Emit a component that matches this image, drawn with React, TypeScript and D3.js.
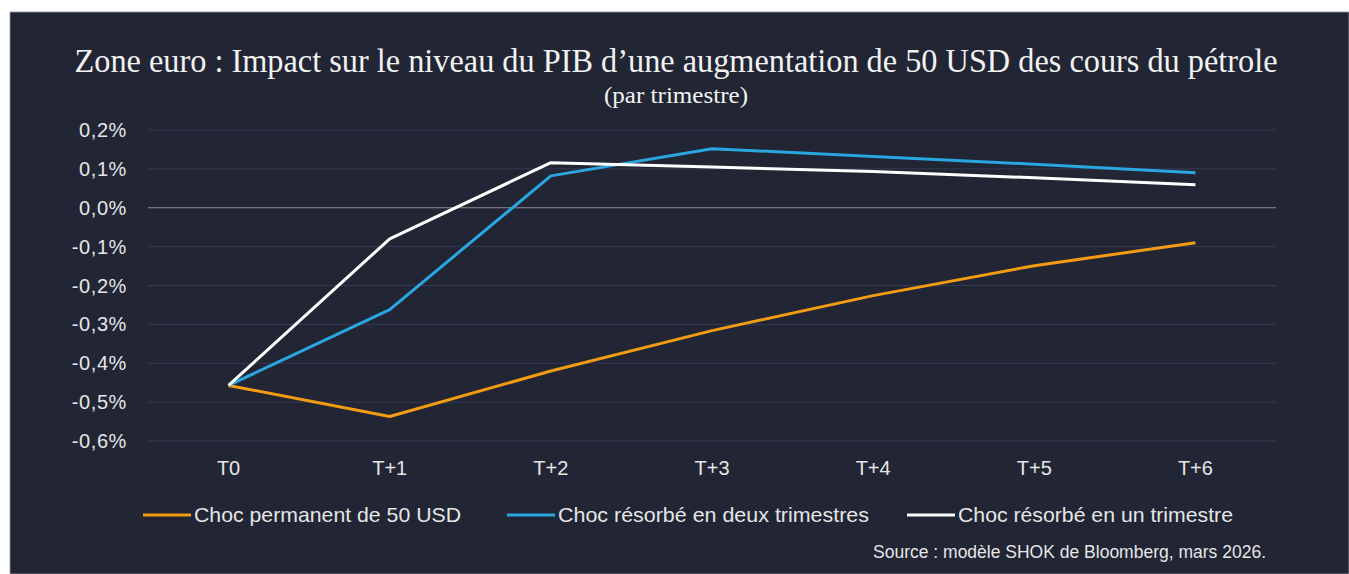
import React, { useRef, useEffect } from 'react';
import * as d3 from 'd3';

// quarters after the oil shock
const quarters = ['T0', 'T+1', 'T+2', 'T+3', 'T+4', 'T+5', 'T+6'];

// GDP level impact, in %
const permanentShock = [-0.457, -0.537, -0.42, -0.316, -0.226, -0.149, -0.09];
const twoQuarterShock = [-0.457, -0.262, 0.082, 0.152, 0.132, 0.112, 0.09];
const oneQuarterShock = [-0.457, -0.08, 0.116, 0.105, 0.093, 0.077, 0.059];

const yTicks = [0.2, 0.1, 0, -0.1, -0.2, -0.3, -0.4, -0.5, -0.6];

const seriesNames = [
    'Choc permanent de 50 USD',
    'Choc résorbé en deux trimestres',
    'Choc résorbé en un trimestre',
];

const BG = '#212534';

export default function App() {
    const svgRef = useRef(null);

    useEffect(() => {
        const width = 1349;
        const height = 574;
        const svg = d3.select(svgRef.current)
            .attr('width', width)
            .attr('height', height);
        svg.selectAll('*').remove();

        // panel background
        svg.append('rect')
            .attr('x', 10).attr('y', 12)
            .attr('width', width - 10).attr('height', height - 12)
            .attr('fill', BG)
            .attr('stroke', '#9a9ca3')
            .attr('stroke-width', 0.8);

        // titles
        svg.append('text')
            .attr('x', 676).attr('y', 72)
            .attr('text-anchor', 'middle')
            .attr('font-family', '"Liberation Serif", serif')
            .attr('font-size', 34)
            .attr('fill', '#f2f2f2')
            .attr('textLength', 1203)
            .attr('lengthAdjust', 'spacingAndGlyphs')
            .text('Zone euro : Impact sur le niveau du PIB d\u2019une augmentation de 50 USD des cours du pétrole');

        svg.append('text')
            .attr('x', 676).attr('y', 103)
            .attr('text-anchor', 'middle')
            .attr('font-family', '"Liberation Serif", serif')
            .attr('font-size', 24)
            .attr('fill', '#f2f2f2')
            .attr('textLength', 144)
            .attr('lengthAdjust', 'spacingAndGlyphs')
            .text('(par trimestre)');

        const left = 148, right = 1276;
        const x = d3.scaleBand().domain(quarters).range([left, right]);
        const y = d3.scaleLinear().domain([-0.6, 0.2]).range([441, 130]);

        // gridlines
        svg.append('g')
            .selectAll('line')
            .data(yTicks)
            .join('line')
            .attr('x1', left).attr('x2', right)
            .attr('y1', d => y(d)).attr('y2', d => y(d))
            .attr('stroke', d => d === 0 ? '#8b8e98' : '#353a52')
            .attr('stroke-width', 1);

        // y labels
        svg.append('g')
            .selectAll('text')
            .data(yTicks)
            .join('text')
            .attr('x', 127)
            .attr('y', d => y(d) + 7)
            .attr('text-anchor', 'end')
            .attr('font-family', '"Liberation Sans", Arial, sans-serif')
            .attr('font-size', 20)
            .attr('letter-spacing', 0.6)
            .attr('fill', '#e6e6e6')
            .text(d => d3.format('.1f')(d).replace('.', ',').replace('−', '-') + '%');

        // x labels
        svg.append('g')
            .selectAll('text')
            .data(quarters)
            .join('text')
            .attr('x', d => x(d) + x.bandwidth() / 2)
            .attr('y', 475)
            .attr('text-anchor', 'middle')
            .attr('font-family', '"Liberation Sans", Arial, sans-serif')
            .attr('font-size', 20)
            .attr('fill', '#e6e6e6')
            .text(d => d);

        const series = [
            { values: permanentShock, color: '#f39c12' },
            { values: twoQuarterShock, color: '#2aa6e0' },
            { values: oneQuarterShock, color: '#ffffff' },
        ];

        const line = d3.line<number>()
            .x((d, i) => x(quarters[i]) + x.bandwidth() / 2)
            .y(d => y(d));

        series.forEach(s => {
            svg.append('path')
                .datum(s.values)
                .attr('fill', 'none')
                .attr('stroke', s.color)
                .attr('stroke-width', 3)
                .attr('stroke-linejoin', 'round')
                .attr('d', line);
        });

        // legend
        const legendX = [143, 507, 907];
        const legendW = [267, 311, 275];
        series.forEach((s, i) => {
            svg.append('line')
                .attr('x1', legendX[i]).attr('x2', legendX[i] + 48)
                .attr('y1', 515).attr('y2', 515)
                .attr('stroke', s.color)
                .attr('stroke-width', 3);
            svg.append('text')
                .attr('x', legendX[i] + 51)
                .attr('y', 522)
                .attr('font-family', '"Liberation Sans", Arial, sans-serif')
                .attr('font-size', 21)
                .attr('fill', '#e6e6e6')
                .attr('textLength', legendW[i])
                .attr('lengthAdjust', 'spacingAndGlyphs')
                .text(seriesNames[i]);
        });

        // source
        svg.append('text')
            .attr('x', 1266).attr('y', 558)
            .attr('text-anchor', 'end')
            .attr('font-family', '"Liberation Sans", Arial, sans-serif')
            .attr('font-size', 17.5)
            .attr('fill', '#e6e6e6')
            .text('Source : modèle SHOK de Bloomberg, mars 2026.');
    }, []);

    return (
        <svg ref={svgRef} style={{ position: 'absolute', left: 0, top: 0, display: 'block' }}></svg>
    );
}
